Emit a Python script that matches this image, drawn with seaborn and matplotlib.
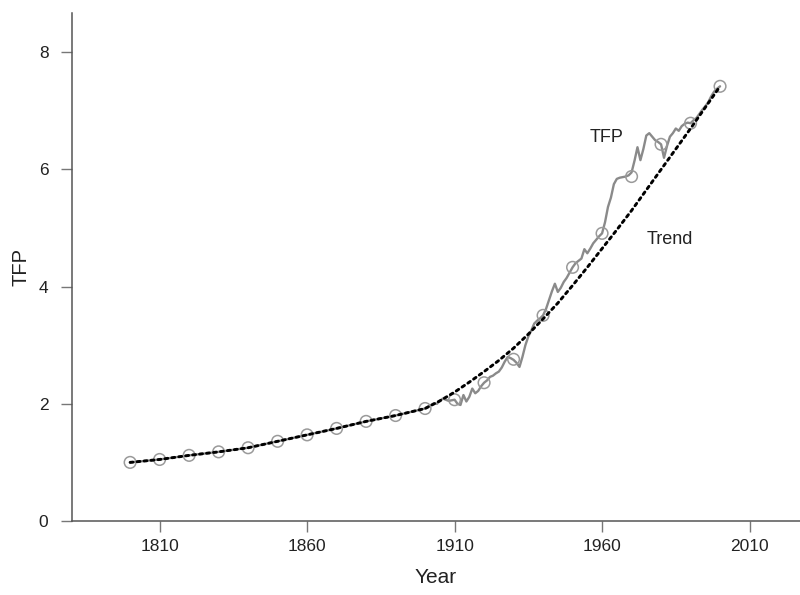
import matplotlib
matplotlib.use("Agg")
import matplotlib.pyplot as plt
import seaborn as sns
import pandas as pd
from matplotlib import font_manager

# ---------------- data ----------------
decade_years = [1800, 1810, 1820, 1830, 1840, 1850, 1860, 1870, 1880, 1890,
                1900, 1910, 1920, 1930, 1940, 1950, 1960, 1970, 1980, 1990, 2000]
decade_tfp = [1.00, 1.05, 1.12, 1.18, 1.25, 1.36, 1.47, 1.58, 1.70, 1.80,
              1.92, 2.07, 2.36, 2.76, 3.51, 4.33, 4.91, 5.88, 6.43, 6.79, 7.42]

annual_years = list(range(1900, 2001))
annual_tfp = [
    1.92, 1.95, 1.98, 2.01, 2.00, 2.05, 2.09, 2.07, 2.05, 2.06,   # 1900-1909
    2.07, 2.00, 1.98, 2.15, 2.04, 2.12, 2.26, 2.18, 2.22, 2.30,   # 1910-1919
    2.36, 2.40, 2.46, 2.48, 2.52, 2.55, 2.62, 2.72, 2.80, 2.78,   # 1920-1929
    2.75, 2.70, 2.63, 2.80, 3.00, 3.15, 3.25, 3.37, 3.42, 3.46,   # 1930-1939
    3.51, 3.62, 3.77, 3.92, 4.05, 3.91, 3.98, 4.08, 4.15, 4.24,   # 1940-1949
    4.33, 4.40, 4.44, 4.48, 4.64, 4.57, 4.65, 4.74, 4.80, 4.86,   # 1950-1959
    4.91, 5.10, 5.36, 5.52, 5.75, 5.84, 5.86, 5.87, 5.88, 5.90,   # 1960-1969
    5.95, 6.15, 6.38, 6.16, 6.35, 6.58, 6.62, 6.56, 6.50, 6.47,   # 1970-1979
    6.43, 6.20, 6.40, 6.56, 6.62, 6.70, 6.66, 6.74, 6.78, 6.80,   # 1980-1989
    6.79, 6.84, 6.88, 6.95, 7.02, 7.08, 7.15, 7.25, 7.33, 7.38,   # 1990-1999
    7.42,                                                         # 2000
]

trend_years = [1800, 1810, 1820, 1830, 1840, 1850, 1860, 1870, 1880, 1890,
               1900, 1905, 1910, 1915, 1920, 1925, 1930, 1935, 1940, 1945,
               1950, 1955, 1960, 1965, 1970, 1975, 1980, 1985, 1990, 1995, 2000]
trend_tfp = [1.00, 1.05, 1.12, 1.18, 1.25, 1.36, 1.47, 1.58, 1.70, 1.80,
             1.92, 2.05, 2.20, 2.37, 2.55, 2.74, 2.95, 3.19, 3.45, 3.72,
             4.02, 4.33, 4.65, 4.97, 5.30, 5.65, 6.00, 6.35, 6.70, 7.06, 7.42]

x_ticks = [1810, 1860, 1910, 1960, 2010]
y_ticks = [0, 2, 4, 6, 8]

# ---------------- style ----------------
sns.set_style("ticks")
avail = {f.name for f in font_manager.fontManager.ttflist}
narrow = "Liberation Sans Narrow" if "Liberation Sans Narrow" in avail else "Liberation Sans"
plt.rcParams["font.family"] = ["Liberation Sans", "DejaVu Sans"]

fig = plt.figure(figsize=(8.0, 5.95), dpi=100)
ax = fig.add_axes([0.09, 0.1244, 0.91, 0.8536])

pre = pd.DataFrame({"year": decade_years[:11], "tfp": decade_tfp[:11]})
ann = pd.DataFrame({"year": annual_years, "tfp": annual_tfp})
dec = pd.DataFrame({"year": decade_years, "tfp": decade_tfp})
trd = pd.DataFrame({"year": trend_years, "tfp": trend_tfp})

gray = "#8a8a8a"
sns.lineplot(data=pre, x="year", y="tfp", ax=ax, color=gray, lw=1.7, zorder=2)
sns.lineplot(data=ann, x="year", y="tfp", ax=ax, color=gray, lw=1.7, zorder=2)
sns.scatterplot(data=dec, x="year", y="tfp", ax=ax, marker="o", s=70,
                facecolors="none", edgecolors="#9a9a9a", linewidth=1.1, zorder=3)
sns.lineplot(data=trd, x="year", y="tfp", ax=ax, color="black", lw=2.1,
             linestyle=(0, (1, 1.4)), zorder=4)
for ln in ax.lines[-1:]:
    ln.set_dash_capstyle("round")

ax.set_xlim(1780.3, 2027.1)
ax.set_ylim(0, 8.67)
ax.set_xticks(x_ticks)
ax.set_yticks(y_ticks)
ax.set_xticklabels([str(v) for v in x_ticks], fontsize=12.5, family=narrow, color="#222222")
ax.set_yticklabels([str(v) for v in y_ticks], fontsize=12.5, family=narrow, color="#222222")

for side in ("top", "right"):
    ax.spines[side].set_visible(False)
for side in ("left", "bottom"):
    ax.spines[side].set_color("#555555")
    ax.spines[side].set_linewidth(1.1)
ax.tick_params(axis="both", direction="out", length=8, width=1.0, color="#777777")
ax.tick_params(axis="y", pad=9)
ax.tick_params(axis="x", pad=5)

ax.set_xlabel("Year", fontsize=15, color="#222222", labelpad=10)
ax.set_ylabel("TFP", fontsize=14.5, color="#222222", labelpad=6)

ax.text(1961.5, 6.54, "TFP", fontsize=13, color="#222222",
        ha="center", va="center")
ax.text(1983, 4.8, "Trend", fontsize=13, color="#222222",
        ha="center", va="center")

fig.savefig("out.png", dpi=100, facecolor="white")
